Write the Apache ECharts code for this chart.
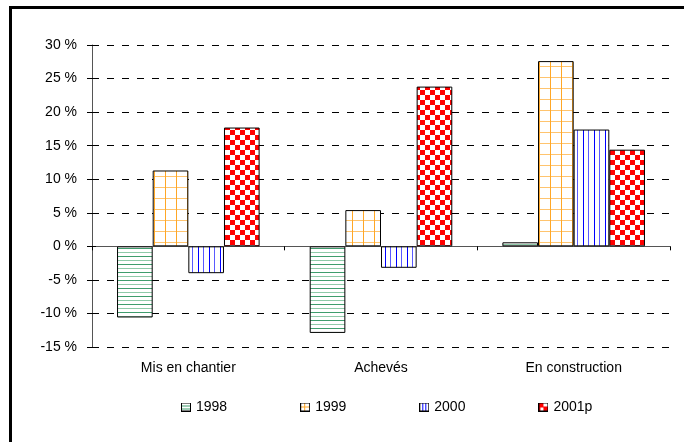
<!DOCTYPE html>
<html>
<head>
<meta charset="utf-8">
<script src="https://cdn.jsdelivr.net/npm/echarts@6/dist/echarts.min.js"></script>
<style>
html,body{margin:0;padding:0;background:#fff;}
#chart{width:684px;height:442px;}
</style>
</head>
<body>
<div id="chart"></div>
<script>
const categories = ['Mis en chantier', 'Achevés', 'En construction'];
const seriesNames = ['1998', '1999', '2000', '2001p'];
const values1998 = [-10.6, -12.9, 0.6];
const values1999 = [11.3, 5.4, 27.6];
const values2000 = [-4.0, -3.2, 17.4];
const values2001p = [17.7, 23.8, 14.4];
const yTicks = { min: -15, max: 30, interval: 5 };

function makeCanvas(w, h, draw) {
  const c = document.createElement('canvas');
  c.width = w; c.height = h;
  const ctx = c.getContext('2d');
  ctx.fillStyle = '#ffffff';
  ctx.fillRect(0, 0, w, h);
  draw(ctx);
  return c;
}
const pat1998 = makeCanvas(8, 8, ctx => {
  ctx.fillStyle = '#3f9d6d'; ctx.fillRect(0, 0, 8, 1);
  ctx.fillStyle = '#8fcaa9'; ctx.fillRect(0, 4, 8, 1);
});
const pat1999 = makeCanvas(11, 11, ctx => {
  ctx.fillStyle = '#ffc46e'; ctx.fillRect(0, 0, 11, 1);
  ctx.fillStyle = '#ffa726'; ctx.fillRect(0, 0, 1, 11);
});
const pat2000 = makeCanvas(11, 11, ctx => {
  ctx.fillStyle = '#0000ff'; ctx.fillRect(0, 0, 1, 11);
  ctx.fillStyle = '#5a5aff'; ctx.fillRect(5, 0, 1, 11);
});
const pat2001 = makeCanvas(10, 10, ctx => {
  ctx.fillStyle = '#ff0000';
  ctx.fillRect(0, 0, 5, 5);
  ctx.fillRect(5, 5, 5, 5);
});
const patterns = [pat1998, pat1999, pat2000, pat2001];
const allValues = [values1998, values1999, values2000, values2001p];

// legend icons (10 x 9 with black border)
function icon(draw) {
  const c = makeCanvas(10, 9, draw);
  const ctx = c.getContext('2d');
  ctx.strokeStyle = '#000'; ctx.lineWidth = 1;
  ctx.strokeRect(0.5, 0.5, 9, 8);
  return 'image://' + c.toDataURL();
}
const icons = [
  icon(ctx => { ctx.fillStyle = '#3f9d6d'; ctx.fillRect(0, 3, 10, 1); ctx.fillRect(0, 6, 10, 1); }),
  icon(ctx => { ctx.fillStyle = '#ffa726'; ctx.fillRect(4, 0, 1, 9); ctx.fillRect(0, 4, 10, 1); }),
  icon(ctx => { ctx.fillStyle = '#0000ff'; ctx.fillRect(3, 0, 1, 9); ctx.fillRect(6, 0, 1, 9); }),
  icon(ctx => { ctx.fillStyle = '#ff0000'; ctx.fillRect(1, 1, 4, 4); ctx.fillRect(5, 4, 4, 4); ctx.fillRect(1, 5, 1, 3); })
];

const FONT = 'Liberation Sans';
const FS = 14;
const chart = echarts.init(document.getElementById('chart'), null, { renderer: 'canvas' });

const series = seriesNames.map((name, i) => ({
  name: name,
  type: 'bar',
  xAxisIndex: 0,
  yAxisIndex: 0,
  data: allValues[i],
  barGap: '0%',
  barCategoryGap: '26%',
  itemStyle: {
    color: { image: patterns[i], repeat: 'repeat' },
    borderColor: '#000',
    borderWidth: 1
  },
  emphasis: { disabled: true },
  animation: false
}));

chart.setOption({
  animation: false,
  backgroundColor: '#fff',
  textStyle: { fontFamily: FONT },
  graphic: [{
    type: 'rect',
    shape: { x: 10.5, y: 7.5, width: 800, height: 600 },
    style: { fill: 'none', stroke: '#000', lineWidth: 3 },
    silent: true,
    z: 100
  }],
  grid: { left: 92, right: 14, top: 45, bottom: 95 },
  legend: {
    data: seriesNames.map((n, i) => ({ name: n, icon: icons[i] })),
    left: 176,
    top: 395,
    itemWidth: 10,
    itemHeight: 9,
    itemGap: 73,
    textStyle: { fontFamily: FONT, fontSize: FS, color: '#000' },
    selectedMode: false
  },
  xAxis: [{
    type: 'category',
    data: categories,
    position: 'bottom',
    axisLine: { show: false, onZero: false },
    axisTick: { show: false },
    axisLabel: { margin: 14, color: '#000', fontSize: FS, fontFamily: FONT },
    splitLine: { show: false }
  }, {
    type: 'category',
    data: categories,
    position: 'bottom',
    axisLine: { show: true, onZero: true, lineStyle: { color: '#555', width: 1 } },
    axisTick: { show: true, length: 4, lineStyle: { color: '#000' } },
    axisLabel: { show: false },
    splitLine: { show: false }
  }],
  yAxis: [{
    type: 'value',
    min: yTicks.min,
    max: yTicks.max,
    interval: yTicks.interval,
    axisLine: { show: true, lineStyle: { color: '#555', width: 1 } },
    axisTick: { show: true, length: 5, lineStyle: { color: '#000' } },
    axisLabel: { margin: 15, color: '#000', fontSize: FS, fontFamily: FONT, formatter: v => v + ' %' },
    splitLine: { show: true, lineStyle: { color: '#000', type: [7, 8], width: 1 } }
  }, {
    type: 'value',
    position: 'left',
    min: yTicks.min,
    max: yTicks.max,
    interval: yTicks.interval,
    axisLine: { show: false },
    axisTick: { show: true, inside: true, length: 4, lineStyle: { color: '#000' } },
    axisLabel: { show: false },
    splitLine: { show: false }
  }],
  series: series
});
</script>
</body>
</html>
